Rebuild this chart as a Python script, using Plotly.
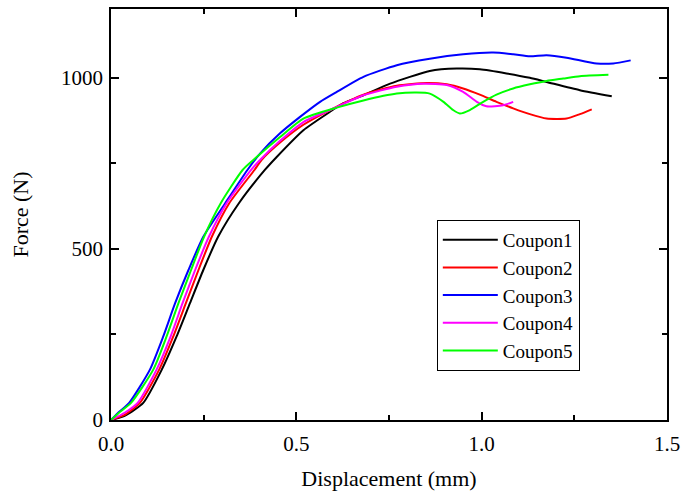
import plotly.graph_objects as go

# Force-displacement curves for five coupons (displacement in mm, force in N)
c1_disp = [0.0, 0.038, 0.087, 0.137, 0.177, 0.213, 0.249, 0.289, 0.345, 0.415, 0.447, 0.519, 0.591,
           0.627, 0.681, 0.753, 0.86, 0.933, 0.995, 1.067, 1.13, 1.175, 1.265, 1.351]
c1_force = [0, 13, 50, 147, 244, 341, 438, 535, 633, 730, 768, 846, 900,
            925, 948, 982, 1019, 1026, 1024, 1012, 999, 987, 963, 945]

c2_disp = [0.0, 0.038, 0.078, 0.130, 0.168, 0.202, 0.236, 0.272, 0.319, 0.387, 0.406, 0.456, 0.519,
           0.591, 0.681, 0.771, 0.852, 0.906, 0.95, 0.995, 1.04, 1.085, 1.13, 1.175, 1.229, 1.265, 1.297]
c2_force = [0, 16, 50, 147, 244, 341, 438, 535, 633, 730, 759, 810, 862,
            905, 950, 976, 984, 980, 968, 950, 929, 910, 893, 880, 880, 893, 907]

c3_disp = [0.0, 0.02, 0.049, 0.105, 0.141, 0.173, 0.209, 0.249, 0.308, 0.368, 0.402, 0.456, 0.51,
           0.564, 0.609, 0.681, 0.771, 0.86, 0.95, 1.031, 1.085, 1.13, 1.175, 1.229, 1.31, 1.355, 1.402]
c3_force = [0, 22, 50, 147, 244, 341, 438, 535, 633, 730, 778, 837, 885,
            929, 958, 1002, 1036, 1055, 1068, 1073, 1068, 1062, 1065, 1058, 1041, 1041, 1050]

c4_disp = [0.0, 0.038, 0.072, 0.123, 0.161, 0.193, 0.227, 0.264, 0.312, 0.378, 0.402, 0.456, 0.519,
           0.591, 0.681, 0.771, 0.843, 0.906, 0.95, 0.987, 1.013, 1.058, 1.085]
c4_force = [0, 22, 50, 147, 244, 341, 438, 535, 633, 730, 759, 815, 870,
            905, 948, 973, 982, 978, 958, 929, 916, 919, 929]

c5_disp = [0.0, 0.02, 0.054, 0.114, 0.150, 0.182, 0.216, 0.251, 0.296, 0.355, 0.384, 0.456, 0.519,
           0.609, 0.681, 0.771, 0.825, 0.86, 0.897, 0.923, 0.941, 0.968, 1.004, 1.04, 1.085, 1.13,
           1.175, 1.22, 1.265, 1.342]
c5_force = [0, 20, 50, 147, 244, 341, 438, 535, 633, 730, 759, 826, 880,
            912, 933, 953, 956, 953, 929, 905, 895, 905, 929, 950, 968, 980,
            990, 997, 1004, 1008]

series = [
    ("Coupon1", c1_disp, c1_force, "#000000"),
    ("Coupon2", c2_disp, c2_force, "#ff0000"),
    ("Coupon3", c3_disp, c3_force, "#0000ff"),
    ("Coupon4", c4_disp, c4_force, "#ff00ff"),
    ("Coupon5", c5_disp, c5_force, "#00ff00"),
]

x_ticks = [0.0, 0.5, 1.0, 1.5]
y_ticks = [0, 500, 1000]

fig = go.Figure()
for name, xs, ys, color in series:
    fig.add_trace(go.Scatter(x=xs, y=ys, mode="lines", name=name,
                             line=dict(color=color, width=2, shape="spline", smoothing=0.6)))

font_family = "Times New Roman, Liberation Serif, DejaVu Serif, serif"
axis_common = dict(
    showline=True, linecolor="black", linewidth=1.5, mirror="ticks",
    ticks="inside", ticklen=8, tickwidth=1.5, tickcolor="black",
    showgrid=False, zeroline=False, automargin=False,
    tickfont=dict(family=font_family, size=21, color="black"),
)

fig.update_xaxes(range=[0, 1.5], tickvals=x_ticks, tickformat=".1f",
                 minor=dict(ticks="inside", ticklen=5, tickwidth=1.5, dtick=0.25, tick0=0, tickcolor="black"),
                 title=dict(text="Displacement (mm)", font=dict(family=font_family, size=22, color="black"),
                            standoff=20),
                 ticklabelstandoff=4, **axis_common)
fig.update_yaxes(range=[0, 1200], tickvals=y_ticks,
                 minor=dict(ticks="inside", ticklen=5, tickwidth=1.5, dtick=250, tick0=0, tickcolor="black"),
                 title=dict(text="Force (N)", font=dict(family=font_family, size=22, color="black"),
                            standoff=26),
                 ticklabelstandoff=2, **axis_common)

fig.update_layout(
    width=681, height=491,
    margin=dict(l=111, r=14, t=9, b=71),
    paper_bgcolor="white", plot_bgcolor="white",
    legend=dict(x=0.586, y=0.487, xanchor="left", yanchor="top",
                bordercolor="black", borderwidth=1, bgcolor="white",
                font=dict(family=font_family, size=19, color="black"),
                itemwidth=55, tracegroupgap=0),
    showlegend=True,
)

fig.write_html("out.html")
